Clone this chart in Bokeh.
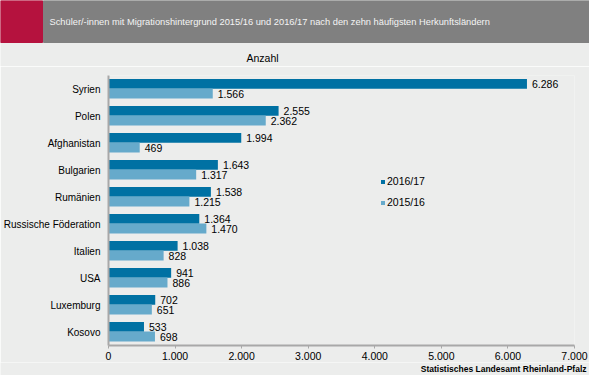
from bokeh.plotting import figure
from bokeh.models import ColumnDataSource, FactorRange, Range1d, FixedTicker, Legend, LegendItem
from bokeh.transform import dodge
from bokeh.layouts import column
from bokeh.core.properties import value
from bokeh.embed import file_html
from bokeh.resources import INLINE

# ---- data ----
countries = ["Syrien", "Polen", "Afghanistan", "Bulgarien", "Rumänien",
             "Russische Föderation", "Italien", "USA", "Luxemburg", "Kosovo"]
v_2016_17 = [6286, 2555, 1994, 1643, 1538, 1364, 1038, 941, 702, 533]
v_2015_16 = [1566, 2362, 469, 1317, 1215, 1470, 828, 886, 651, 698]
series_names = ["2016/17", "2015/16"]
x_ticks = [0, 1000, 2000, 3000, 4000, 5000, 6000, 7000]
x_tick_labels = ["0", "1.000", "2.000", "3.000", "4.000", "5.000", "6.000", "7.000"]
title_text = "Schüler/-innen mit Migrationshintergrund 2015/16 und 2016/17 nach den zehn häufigsten Herkunftsländern"
unit_text = "Anzahl"
source_text = "Statistisches Landesamt Rheinland-Pfalz"

# ---- styles ----
FONT = "Liberation Sans"
BG = "#ECEDEC"
DARK = "#0071A3"
LIGHT = "#66AACB"
AXIS = "#A8A8A8"
W = 589
HH, CH, FH = 66, 296, 13


def fmt(v):
    return f"{v:,}".replace(",", ".")


# ---- header ----
h = figure(width=W, height=HH, x_range=Range1d(0, W), y_range=Range1d(HH, 0),
           output_backend="svg", toolbar_location=None, min_border=0, frame_align=False)
h.axis.visible = False
h.grid.visible = False
h.outline_line_color = None
h.background_fill_color = BG
h.border_fill_color = BG
h.quad(left=[0], right=[42], top=[0], bottom=[42], color="#B5123E")
h.quad(left=[43], right=[W], top=[0], bottom=[42], color="#808080")
h.text(x=[49], y=[21], text=[title_text], text_font=value(FONT), text_font_size="9.3px",
       text_color="#F4F4F4", text_baseline="middle", text_align="left")
h.text(x=[262], y=[57], text=[unit_text], text_font=value(FONT), text_font_size="10.5px",
       text_color="#000000", text_baseline="middle", text_align="center")

# ---- chart ----
src = ColumnDataSource(dict(
    country=countries,
    a=v_2016_17,
    b=v_2015_16,
    la=[fmt(v) for v in v_2016_17],
    lb=[fmt(v) for v in v_2015_16],
))

p = figure(width=W, height=CH, y_range=FactorRange(*reversed(countries), range_padding=0),
           x_range=Range1d(0, 7000), output_backend="svg", toolbar_location=None,
           min_border_left=108, min_border_right=15, min_border_top=9, min_border_bottom=17,
           frame_align=False)
p.background_fill_color = BG
p.border_fill_color = BG
p.outline_line_color = None
p.grid.visible = False

ra = p.hbar(y=dodge("country", 0.19, range=p.y_range), right="a", left=0, height=0.37,
            source=src, color=DARK, line_color=None)
rb = p.hbar(y=dodge("country", -0.17, range=p.y_range), right="b", left=0, height=0.37,
            source=src, color=LIGHT, line_color=None)

p.text(x="a", y=dodge("country", 0.19, range=p.y_range), text="la", source=src,
       x_offset=5, text_font=value(FONT), text_font_size="10.5px", text_color="#000000",
       text_baseline="middle", text_align="left")
p.text(x="b", y=dodge("country", -0.17, range=p.y_range), text="lb", source=src,
       x_offset=5, text_font=value(FONT), text_font_size="10.5px", text_color="#000000",
       text_baseline="middle", text_align="left")

xa = p.xaxis[0]
xa.ticker = FixedTicker(ticks=x_ticks)
xa.major_label_overrides = {t: l for t, l in zip(x_ticks, x_tick_labels)}
xa.axis_line_color = AXIS
xa.axis_line_width = 2
xa.major_tick_line_color = AXIS
xa.major_tick_line_width = 1
xa.major_tick_in = 0
xa.major_tick_out = 3
xa.minor_tick_line_color = None
xa.major_label_standoff = 3
xa.major_label_text_font = FONT
xa.major_label_text_font_size = "10.5px"
xa.major_label_text_color = "#000000"

ya = p.yaxis[0]
ya.axis_line_color = AXIS
ya.axis_line_width = 2
ya.major_tick_line_color = None
ya.major_tick_out = 0
ya.major_tick_in = 0
ya.major_label_standoff = 8
ya.major_label_text_font = FONT
ya.major_label_text_font_size = "10px"
ya.major_label_text_color = "#000000"

legend = Legend(items=[LegendItem(label=series_names[0], renderers=[ra]),
                       LegendItem(label=series_names[1], renderers=[rb])],
                location=(272, 137), orientation="vertical",
                glyph_width=5, glyph_height=5, label_height=12, spacing=9,
                padding=0, margin=0, label_standoff=2,
                label_text_font=FONT, label_text_font_size="10.5px",
                label_text_color="#000000",
                background_fill_alpha=0, border_line_color=None)
p.add_layout(legend)

# ---- footer ----
f = figure(width=W, height=FH, x_range=Range1d(0, W), y_range=Range1d(FH, 0),
           output_backend="svg", toolbar_location=None, min_border=0, frame_align=False)
f.axis.visible = False
f.grid.visible = False
f.outline_line_color = None
f.background_fill_color = BG
f.border_fill_color = BG
f.text(x=[586], y=[6.5], text=[source_text], text_font=value(FONT), text_font_size="8.5px",
       text_font_style="bold", text_color="#000000", text_baseline="middle", text_align="right")

layout = column(h, p, f, spacing=0)
open("out.html", "w").write(file_html(layout, INLINE))
